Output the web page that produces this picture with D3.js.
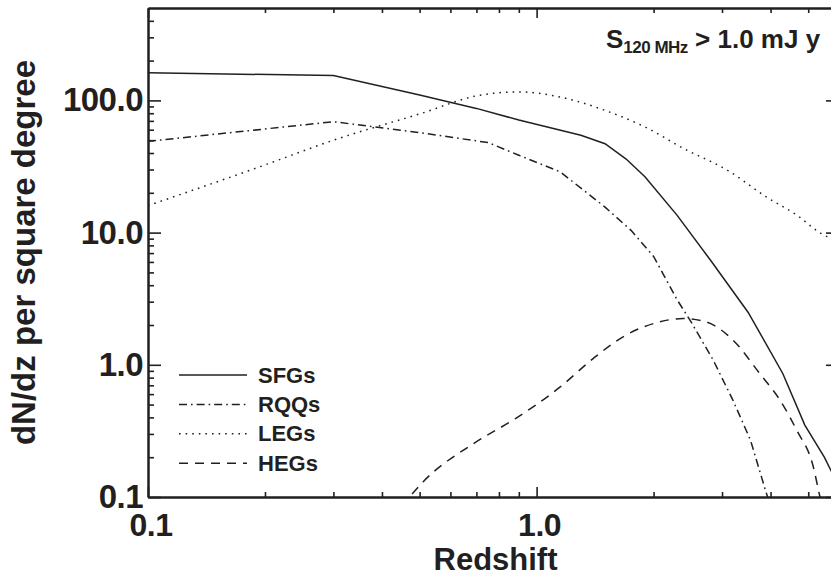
<!DOCTYPE html>
<html>
<head>
<meta charset="utf-8">
<script src="https://cdn.jsdelivr.net/npm/d3@7"></script>
<style>
  html, body { margin: 0; padding: 0; background: #fff; }
  svg { display: block; }
  text { font-family: "Liberation Sans", Arial, sans-serif; font-weight: bold; fill: #231f20; }
</style>
</head>
<body>
<svg id="chart" width="831" height="577"></svg>
<script>
// ---- data ----
const sfgZ = [0.1, 0.3, 0.5, 0.7, 0.9, 1.3, 1.5, 1.7, 1.9, 2.3, 2.8, 3.5, 4.3, 4.9, 5.5, 6.0];
const sfgN = [162, 154, 110, 87, 71, 54.5, 47, 36, 26.5, 13.5, 6.2, 2.5, 0.86, 0.35, 0.2, 0.12];

const rqqZ = [0.1, 0.3, 0.5, 0.75, 0.9, 1.15, 1.5, 1.75, 2.0, 2.3, 2.5, 2.85, 3.2, 3.55, 3.9, 4.1];
const rqqN = [49, 69, 57, 48, 38.5, 28.8, 15.6, 10.4, 6.6, 3.1, 2.1, 1.08, 0.54, 0.27, 0.107, 0.07];

const legZ = [0.1, 0.2, 0.3, 0.5, 0.72, 0.9, 1.15, 1.5, 1.9, 2.4, 3.1, 3.9, 4.75, 5.25, 5.6, 6.0];
const legN = [16, 32.5, 50, 79, 110, 116, 106, 84, 63, 43, 29.6, 18.6, 13.1, 10.4, 9.3, 8.8];

const hegZ = [0.45, 0.51, 0.69, 0.88, 1.08, 1.15, 1.4, 1.7, 2.07, 2.38, 2.73, 3.2, 3.75, 4.23, 4.67, 5.15, 5.36, 5.6];
const hegN = [0.085, 0.13, 0.255, 0.39, 0.59, 0.68, 1.12, 1.68, 2.11, 2.24, 2.11, 1.54, 0.86, 0.54, 0.32, 0.17, 0.1, 0.06];

const xMajor = [0.1, 1.0];
const xMinor = [0.2, 0.3, 0.4, 0.5, 0.6, 0.7, 0.8, 0.9, 2, 3, 4, 5];
const yMajor = [0.1, 1.0, 10.0, 100.0];
const yMinor = [0.2,0.3,0.4,0.5,0.6,0.7,0.8,0.9,2,3,4,5,6,7,8,9,20,30,40,50,60,70,80,90,200,300,400];

const seriesNames = ["SFGs", "RQQs", "LEGs", "HEGs"];
const seriesDash = ["none", "8,4,1.6,4", "1.6,5", "9,7"];

// ---- layout ----
const ink = "#231f20";
const L = 148, R = 839, T = 8, B = 497;
const svg = d3.select("#chart");

const x = d3.scaleLog().domain([0.1, 6]).range([L, R]);
const y = d3.scaleLog().domain([0.1, 500]).range([B, T]);

svg.append("defs").append("clipPath").attr("id", "clip")
  .append("rect").attr("x", L).attr("y", T).attr("width", R - L).attr("height", B - T);

const fmt = d3.format(".1f");

function styleAxis(g, labels, size) {
  g.select(".domain").attr("stroke", ink).attr("stroke-width", 2);
  g.selectAll(".tick line").attr("stroke", ink).attr("stroke-width", 1.6);
  if (labels) {
    g.selectAll(".tick text").attr("fill", ink).style("font-size", size + "px")
      .style("font-family", '"Liberation Sans", Arial, sans-serif').style("font-weight", "bold")
      .attr("letter-spacing", "-0.5");
  } else {
    g.selectAll(".tick text").remove();
  }
}

// left axis
svg.append("g").attr("transform", `translate(${L},0)`)
  .call(d3.axisLeft(y).tickValues(yMinor).tickSize(-6).tickSizeOuter(0).tickFormat(""))
  .call(g => styleAxis(g, false));
svg.append("g").attr("transform", `translate(${L},0)`)
  .call(d3.axisLeft(y).tickValues(yMajor).tickSize(-13).tickSizeOuter(0).tickPadding(5).tickFormat(fmt))
  .call(g => styleAxis(g, true, 33));

// right axis
svg.append("g").attr("transform", `translate(${R},0)`)
  .call(d3.axisRight(y).tickValues(yMinor).tickSize(-6).tickSizeOuter(0).tickFormat(""))
  .call(g => styleAxis(g, false));
svg.append("g").attr("transform", `translate(${R},0)`)
  .call(d3.axisRight(y).tickValues(yMajor).tickSize(-13).tickSizeOuter(0).tickFormat(""))
  .call(g => styleAxis(g, false));

// bottom axis
svg.append("g").attr("transform", `translate(0,${B})`)
  .call(d3.axisBottom(x).tickValues(xMinor).tickSize(-5).tickSizeOuter(0).tickFormat(""))
  .call(g => styleAxis(g, false));
svg.append("g").attr("transform", `translate(0,${B})`)
  .call(d3.axisBottom(x).tickValues(xMajor).tickSize(-10).tickSizeOuter(0).tickPadding(16).tickFormat(fmt))
  .call(g => styleAxis(g, true, 32))
  .call(g => g.selectAll(".tick text").attr("dx", 2.5));

// top axis
svg.append("g").attr("transform", `translate(0,${T})`)
  .call(d3.axisTop(x).tickValues(xMinor).tickSize(-5).tickSizeOuter(0).tickFormat(""))
  .call(g => styleAxis(g, false));
svg.append("g").attr("transform", `translate(0,${T})`)
  .call(d3.axisTop(x).tickValues(xMajor).tickSize(-10).tickSizeOuter(0).tickFormat(""))
  .call(g => styleAxis(g, false));

// ---- lines ----
const series = [
  { z: sfgZ, n: sfgN, curve: d3.curveLinear },
  { z: rqqZ, n: rqqN, curve: d3.curveLinear },
  { z: legZ, n: legN, curve: d3.curveMonotoneX },
  { z: hegZ, n: hegN, curve: d3.curveMonotoneX }
];
const plot = svg.append("g").attr("clip-path", "url(#clip)");
series.forEach((s, i) => {
  const pts = s.z.map((z, k) => [z, s.n[k]]);
  const line = d3.line().x(d => x(d[0])).y(d => y(d[1])).curve(s.curve);
  plot.append("path").attr("d", line(pts))
    .attr("fill", "none").attr("stroke", ink).attr("stroke-width", 1.5)
    .attr("stroke-dasharray", seriesDash[i] === "none" ? null : seriesDash[i]);
});

// ---- legend ----
const leg = svg.append("g");
seriesNames.forEach((name, i) => {
  const yy = 375 + i * 29.4;
  leg.append("line").attr("x1", 179).attr("x2", 247).attr("y1", yy).attr("y2", yy)
    .attr("stroke", ink).attr("stroke-width", 1.5)
    .attr("stroke-dasharray", seriesDash[i] === "none" ? null : seriesDash[i]);
  leg.append("text").attr("x", 258).attr("y", yy + 7.5).style("font-size", "22px").text(name);
});

// ---- annotation ----
const ann = svg.append("text").attr("x", 606).attr("y", 48).style("font-size", "26px");
ann.append("tspan").text("S");
ann.append("tspan").attr("dy", 5).style("font-size", "17px").attr("letter-spacing", "-0.5").text("120 MHz");
ann.append("tspan").attr("dy", -5).text(" > 1.0 mJ y");

// ---- axis titles ----
svg.append("text").attr("x", (L + R) / 2 + 2).attr("y", 570).attr("text-anchor", "middle")
  .style("font-size", "31px").text("Redshift");
svg.append("text").attr("transform", `translate(35,${(T + B) / 2}) rotate(-90)`)
  .attr("text-anchor", "middle").style("font-size", "33px").text("dN/dz per square degree");
</script>
</body>
</html>
